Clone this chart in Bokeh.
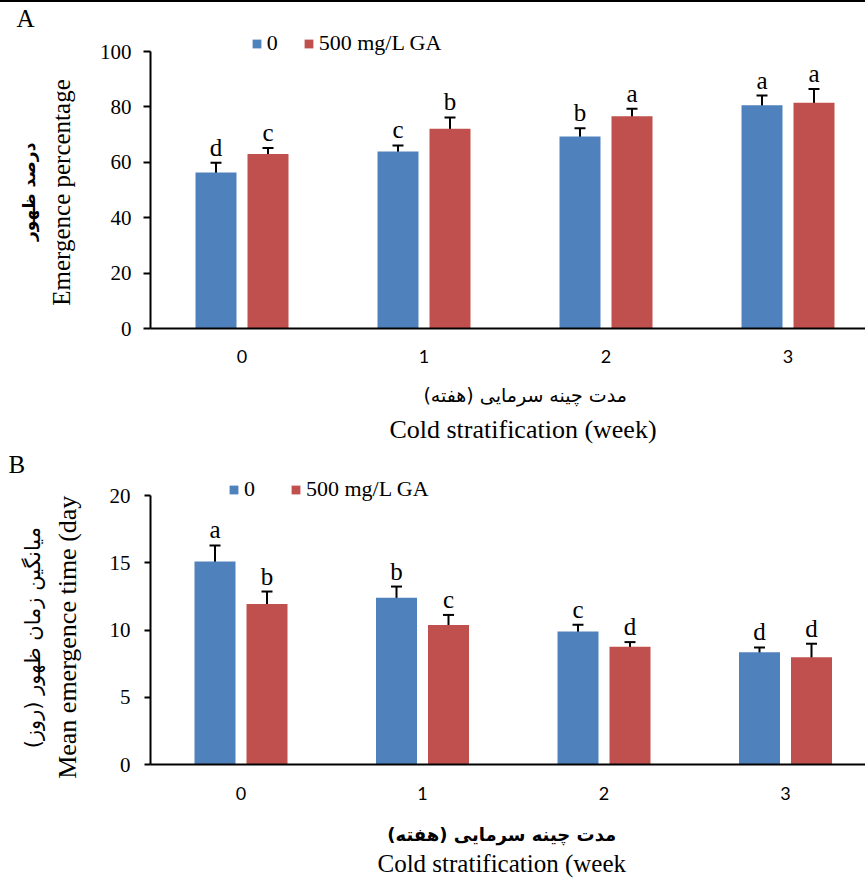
from bokeh.plotting import figure
from bokeh.models import (ColumnDataSource, Range1d, FixedTicker, LinearAxis, Whisker,
                          TeeHead, Legend, LegendItem, Div)
from bokeh.layouts import column
from bokeh.embed import file_html
from bokeh.resources import INLINE
from bokeh.core.properties import value

# ---------------- data ----------------
weeks = [0, 1, 2, 3]
week_labels = ["0", "1", "2", "3"]
series_names = ["0", "500 mg/L GA"]

# Panel A: emergence percentage
em_ctrl = [56.3, 63.9, 69.3, 80.6]
em_ga = [63.0, 72.1, 76.6, 81.5]
em_ctrl_err = [3.5, 2.2, 3.0, 3.5]
em_ga_err = [2.2, 4.1, 2.7, 5.0]
em_ctrl_grp = ["d", "c", "b", "a"]
em_ga_grp = ["c", "b", "a", "a"]
em_ticks = [0, 20, 40, 60, 80, 100]

# Panel B: mean emergence time (day)
mt_ctrl = [15.09, 12.39, 9.89, 8.35]
mt_ga = [11.94, 10.38, 8.75, 7.98]
mt_ctrl_err = [1.2, 0.84, 0.5, 0.35]
mt_ga_err = [0.92, 0.74, 0.35, 1.0]
mt_ctrl_grp = ["a", "b", "c", "d"]
mt_ga_grp = ["b", "c", "d", "d"]
mt_ticks = [0, 5, 10, 15, 20]

BLUE = "#4F81BD"
RED = "#C0504D"
SERIF = "Liberation Serif"
PERSIAN = "DejaVu Sans"
TICKFONT = "Lato"
NB = "\u00a0"


def make_panel(ctrl, ga, ctrl_err, ga_err, ctrl_grp, ga_grp, yticks, ytop,
               letter, ytitle_en, ytitle_fa, xtitle_fa, xtitle_en, st, geom):
    (border_left, border_top, frame_w, frame_h, border_bottom, x_start, px_per_unit,
     px_per_y, leg_x, leg_y, leg_spacing, title_offset) = geom
    x_end = x_start + frame_w / px_per_unit
    y_end = frame_h / px_per_y
    p = figure(frame_width=frame_w, frame_height=frame_h,
               min_border_left=border_left, min_border_right=0,
               min_border_top=border_top, min_border_bottom=border_bottom,
               x_range=Range1d(x_start, x_end), y_range=Range1d(0, y_end),
               output_backend="svg", toolbar_location=None)
    p.xgrid.visible = False
    p.ygrid.visible = False
    p.outline_line_color = None
    p.background_fill_color = "white"
    p.border_fill_color = "white"

    # panel letter
    p.title.text = letter
    p.title.align = "left"
    p.title.offset = title_offset
    p.title.standoff = 0
    p.title.vertical_align = "bottom"
    p.title.text_font = SERIF
    p.title.text_font_size = "25px"
    p.title.text_font_style = "normal"
    p.title.text_color = "black"

    off = 26.0 / px_per_unit
    bw = 41.0 / px_per_unit
    renderers = []
    for vals, errs, grps, sign, col in ((ctrl, ctrl_err, ctrl_grp, -1, BLUE),
                                        (ga, ga_err, ga_grp, 1, RED)):
        src = ColumnDataSource(dict(
            x=[w + sign * off for w in weeks],
            top=vals,
            upper=[v + e for v, e in zip(vals, errs)],
            lower=[v - e for v, e in zip(vals, errs)],
            grp=grps,
        ))
        r = p.vbar(x="x", top="top", width=bw, source=src, fill_color=col,
                   line_color=None)
        renderers.append(r)
        p.add_layout(Whisker(source=src, base="x", upper="upper", lower="lower",
                             dimension="height", line_width=2, line_color="black",
                             upper_head=TeeHead(size=11, line_width=2, line_color="black"),
                             lower_head=TeeHead(size=11, line_width=2, line_color="black")))
        p.text(x="x", y="upper", text="grp", source=src, text_align="center",
               text_baseline="bottom", y_offset=-2,
               text_font=value(SERIF), text_font_size="25px", text_color="black")

    # y axis
    ya = p.yaxis[0]
    ya.ticker = FixedTicker(ticks=yticks)
    ya.bounds = (yticks[0], ytop)
    ya.axis_line_width = 2
    ya.axis_line_color = "black"
    ya.major_tick_out = st["tick_out"]
    ya.major_tick_in = 0
    ya.major_tick_line_width = 2
    ya.minor_tick_line_color = None
    ya.major_label_standoff = st["ylab_std"]
    ya.major_label_text_font = SERIF
    ya.major_label_text_font_size = "21px"
    ya.major_label_text_color = "black"
    ya.axis_label = ytitle_en + NB * st["y_pad"]
    ya.axis_label_text_font = SERIF
    ya.axis_label_text_font_size = st["yen_size"]
    ya.axis_label_text_font_style = "normal"
    ya.axis_label_standoff = st["yen_std"]
    ya.axis_label_text_color = "black"

    ya2 = LinearAxis(ticker=FixedTicker(ticks=[]), axis_line_color=None,
                     major_tick_line_color=None, minor_tick_line_color=None,
                     major_tick_out=0, major_tick_in=0, major_label_standoff=0,
                     major_label_text_font_size="0px",
                     axis_label=ytitle_fa + NB * st["y_pad"], axis_label_text_font=PERSIAN,
                     axis_label_text_font_size=st["yfa_size"],
                     axis_label_text_font_style=st["yfa_style"],
                     axis_label_standoff=st["yfa_std"], axis_label_text_color="black")
    p.add_layout(ya2, "left")

    # x axis
    xa = p.xaxis[0]
    xa.ticker = FixedTicker(ticks=weeks)
    xa.major_label_overrides = {w: l for w, l in zip(weeks, week_labels)}
    xa.axis_line_width = 2
    xa.axis_line_color = "black"
    xa.major_tick_line_color = None
    xa.major_tick_out = 0
    xa.major_tick_in = 0
    xa.minor_tick_line_color = None
    xa.major_label_standoff = st["xlab_std"]
    xa.major_label_text_font = TICKFONT
    xa.major_label_text_font_size = "18px"
    xa.major_label_text_color = "black"
    xa.axis_label = NB * st["xfa_lpad"] + xtitle_fa + NB * st["xfa_rpad"]
    xa.axis_label_text_font = PERSIAN
    xa.axis_label_text_font_size = st["xfa_size"]
    xa.axis_label_text_font_style = st["xfa_style"]
    xa.axis_label_standoff = st["xfa_std"]
    xa.axis_label_text_color = "black"

    xa2 = LinearAxis(ticker=FixedTicker(ticks=[]), axis_line_color=None,
                     major_tick_line_color=None, minor_tick_line_color=None,
                     major_tick_out=0, major_tick_in=0, major_label_standoff=0,
                     major_label_text_font_size="0px",
                     axis_label=NB * st["xen_lpad"] + xtitle_en + NB * st["xen_rpad"],
                     axis_label_text_font=SERIF,
                     axis_label_text_font_size=st["xen_size"],
                     axis_label_text_font_style="normal",
                     axis_label_standoff=st["xen_std"], axis_label_text_color="black")
    p.add_layout(xa2, "below")

    legend = Legend(items=[LegendItem(label=series_names[0], renderers=[renderers[0]]),
                           LegendItem(label=series_names[1], renderers=[renderers[1]])],
                    orientation="horizontal", location=(leg_x, leg_y),
                    glyph_width=11, glyph_height=11, label_standoff=5,
                    spacing=leg_spacing, padding=0, margin=0,
                    border_line_color=None, background_fill_alpha=0,
                    label_text_font=SERIF, label_text_font_size="22px",
                    label_text_color="black")
    p.add_layout(legend, "center")
    return p


stA = dict(tick_out=7, ylab_std=12, yen_size="25px", yen_std=22,
           yfa_size="17px", yfa_style="bold", yfa_std=6, y_pad=4,
           xlab_std=21, xfa_size="19px", xfa_style="normal", xfa_std=18,
           xfa_lpad=5, xfa_rpad=0,
           xen_size="26px", xen_std=6, xen_lpad=4, xen_rpad=0)
stB = dict(tick_out=6, ylab_std=14, yen_size="26px", yen_std=25,
           yfa_size="21px", yfa_style="normal", yfa_std=5, y_pad=5,
           xlab_std=22, xfa_size="18px", xfa_style="bold", xfa_std=21,
           xfa_lpad=0, xfa_rpad=2,
           xen_size="25px", xen_std=2, xen_lpad=0, xen_rpad=2)

# thin black rule across the top of the figure
top_rule = Div(text="", width=865, height=2, margin=0,
               styles={"background-color": "black"})

# A: frame from y=31 to 328 (2.77 px per unit), y axis at x=146
pA = make_panel(em_ctrl, em_ga, em_ctrl_err, em_ga_err, em_ctrl_grp, em_ga_grp,
                em_ticks, 100, "A", "Emergence percentage", "درصد ظهور",
                "مدت چینه سرمایی (هفته)", "Cold stratification (week)", stA,
                (146, 29, 719, 297, 120, -91.5 / 182.0, 182.0, 2.77,
                 112, 272, 16, -134))

# B: frame from y=477 to 764 (13.45 px per unit), y axis at x=150
pB = make_panel(mt_ctrl, mt_ga, mt_ctrl_err, mt_ga_err, mt_ctrl_grp, mt_ga_grp,
                mt_ticks, 20, "B", "Mean emergence time (day", "میانگین زمان ظهور (روز)",
                "مدت چینه سرمایی (هفته)", "Cold stratification (week", stB,
                (150, 29, 715, 287, 117, -90.5 / 181.5, 181.5, 13.45,
                 78, 262, 26, -142))

layout = column(top_rule, pA, pB, spacing=0)
open("out.html", "w").write(file_html(layout, INLINE))
